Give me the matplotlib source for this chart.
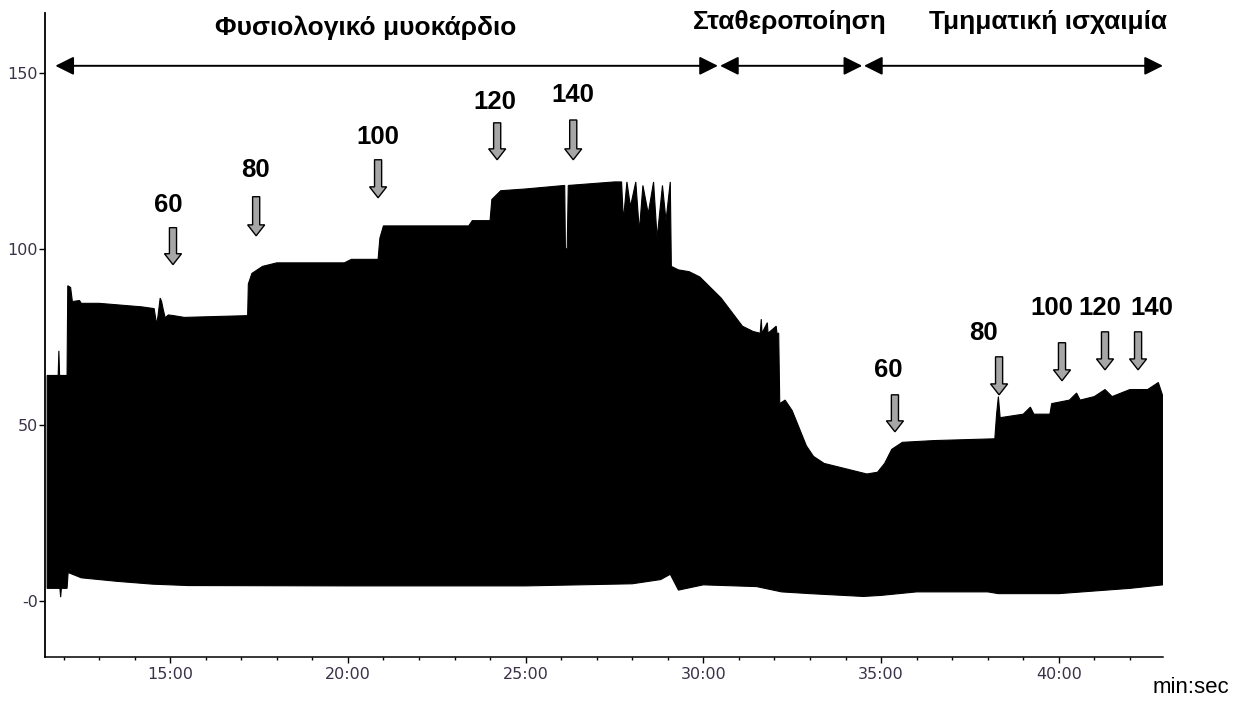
import matplotlib
matplotlib.use("Agg")
import matplotlib.pyplot as plt
from matplotlib.ticker import FixedLocator, MultipleLocator

# signal envelope (time in minutes, amplitude)
up_t = [11.54, 11.85, 11.87, 11.89, 12.10, 12.12, 12.20, 12.25, 12.45, 12.50, 13.0, 13.6, 14.2,
        14.55, 14.62, 14.66, 14.72, 14.76, 14.80, 14.86, 14.95, 15.1, 15.4, 17.18, 17.20, 17.30,
        17.6, 18.0, 19.9, 20.1, 20.85, 20.90, 21.0, 23.4, 23.5, 24.0, 24.05, 24.3, 25.0, 26.1,
        26.12, 26.17, 26.2, 27.5, 27.7, 27.75, 27.85, 27.95, 28.1, 28.2, 28.3, 28.45, 28.6,
        28.7, 28.85, 28.95, 29.07, 29.10, 29.3, 29.6, 29.9, 30.2, 30.5, 30.8, 31.1, 31.4, 31.6,
        31.63, 31.65, 31.8, 31.82, 32.05, 32.07, 32.12, 32.15, 32.3, 32.5, 32.7, 32.9, 33.1,
        33.4, 33.8, 34.2, 34.6, 34.9, 35.1, 35.3, 35.6, 36.5, 38.2, 38.25, 38.3, 38.35, 39.0,
        39.2, 39.3, 39.75, 39.8, 40.3, 40.5, 40.6, 41.0, 41.3, 41.5, 42.0, 42.5, 42.8, 42.93]
up_v = [64, 64, 71, 64, 64, 89.5, 89, 85, 85.3, 84.5, 84.5, 84, 83.5,
        83, 78.5, 81, 86, 85, 83, 80.4, 81.2, 81, 80.5, 81, 90, 93,
        95, 96, 96, 97, 97, 103, 106.5, 106.5, 108, 108, 114, 116.5, 117, 118,
        100, 100, 118, 119, 119, 108, 119, 112, 119, 105, 118, 110, 119,
        103, 118, 108, 119, 95, 94, 93.5, 92, 89, 86, 82, 78, 76.5, 76,
        80, 76, 79, 76, 78, 76, 76, 56, 57, 54, 49, 44, 41,
        39, 38, 37, 36, 36.5, 39, 43, 45, 45.5, 46, 53, 58, 52, 53,
        55, 53, 53, 56, 57, 59, 57, 58, 60, 58, 60, 60, 62, 58]
lo_t = [11.54, 11.90, 11.92, 11.94, 12.10, 12.13, 12.5, 13.5, 14.5, 15.5, 20.0, 25.0, 28.0,
        28.8, 29.07, 29.3, 30.0, 31.5, 32.2, 33.0, 34.5, 35.0, 36.0, 38.0, 38.3, 40.0, 42.0, 42.93]
lo_v = [3.5, 3.5, 1.0, 3.5, 3.5, 8, 6.5, 5.5, 4.7, 4.3, 4.2, 4.2, 4.8,
        6, 7.5, 3, 4.5, 4, 2.5, 2, 1.2, 1.5, 2.5, 2.5, 2, 2, 3.5, 4.5]

# pacing rate markers: (label, time, arrow top, arrow tip)
pace_lbl = ["60", "80", "100", "120", "140", "60", "80", "100", "120", "140"]
pace_t = [15.08, 17.42, 20.85, 24.2, 26.34, 35.39, 38.32, 40.09, 41.3, 42.23]
pace_top = [106, 114.8, 125.3, 135.8, 136.6, 58.5, 69.3, 73.3, 76.4, 76.4]
pace_tip = [95.5, 103.7, 114.5, 125.3, 125.3, 48, 58.5, 62.5, 65.6, 65.6]
lbl_t = [14.95, 17.40, 20.85, 24.14, 26.34, 35.2, 37.87, 39.81, 41.16, 42.62]
lbl_v = [112.5, 122.4, 131.8, 141.8, 143.75, 65.6, 76.1, 83.2, 83.2, 83.2]

# phases
phase_names = ["Φυσιολογικό μυοκάρδιο", "Σταθεροποίηση", "Τμηματική ισχαιμία"]
phase_start = [11.77, 30.47, 34.52]
phase_end = [30.41, 34.47, 42.93]
phase_txt_t = [20.49, 32.44, 39.70]
phase_txt_v = [162.8, 164.5, 164.5]

fig = plt.figure(figsize=(12.47, 7.04), dpi=100)
ax = fig.add_axes([0.0361, 0.0668, 0.8965, 0.9147])

poly_t = up_t + lo_t[::-1]
poly_v = up_v + lo_v[::-1]
ax.fill(poly_t, poly_v, color="black", lw=0.8, ec="black")

ax.set_xlim(11.48, 42.93)
ax.set_ylim(-16, 167)
for s in ["top", "right"]:
    ax.spines[s].set_visible(False)
ax.spines["left"].set_linewidth(1.3)
ax.spines["bottom"].set_linewidth(1.1)

ax.xaxis.set_major_locator(FixedLocator([15, 20, 25, 30, 35, 40]))
ax.set_xticklabels(["15:00", "20:00", "25:00", "30:00", "35:00", "40:00"])
ax.xaxis.set_minor_locator(MultipleLocator(1))
ax.yaxis.set_major_locator(FixedLocator([0, 50, 100, 150]))
ax.set_yticklabels(["-0", "50", "100", "150"])
tc = "#3b3148"
ax.tick_params(axis="both", which="major", length=4, width=1, labelsize=11.5, labelcolor=tc, pad=3)
ax.tick_params(axis="x", which="minor", length=2, width=1)
ax.tick_params(axis="y", which="major", pad=1)

for a, b in zip(phase_start, phase_end):
    ax.annotate("", xy=(b, 152), xytext=(a, 152),
                arrowprops=dict(arrowstyle="<|-|>", mutation_scale=28, lw=1.4,
                                color="black", shrinkA=0, shrinkB=0), annotation_clip=False)
for name, t, v in zip(phase_names, phase_txt_t, phase_txt_v):
    ax.text(t, v, name, ha="center", va="center", fontsize=19, fontweight="bold",
            family="Liberation Sans")

for lab, t, top, tip, lt, lv in zip(pace_lbl, pace_t, pace_top, pace_tip, lbl_t, lbl_v):
    ax.arrow(t, top, 0, tip - top, width=0.2, head_width=0.48, head_length=3.1,
             length_includes_head=True, fc="#a6a6a6", ec="black", lw=1.0, zorder=5)
    ax.text(lt, lv, lab, ha="center", va="center", fontsize=18.5, fontweight="bold",
            family="Liberation Sans")

fig.text(0.955, 0.023, "min:sec", ha="center", va="center", fontsize=16, family="Liberation Sans")

fig.savefig("out.png", dpi=100)
